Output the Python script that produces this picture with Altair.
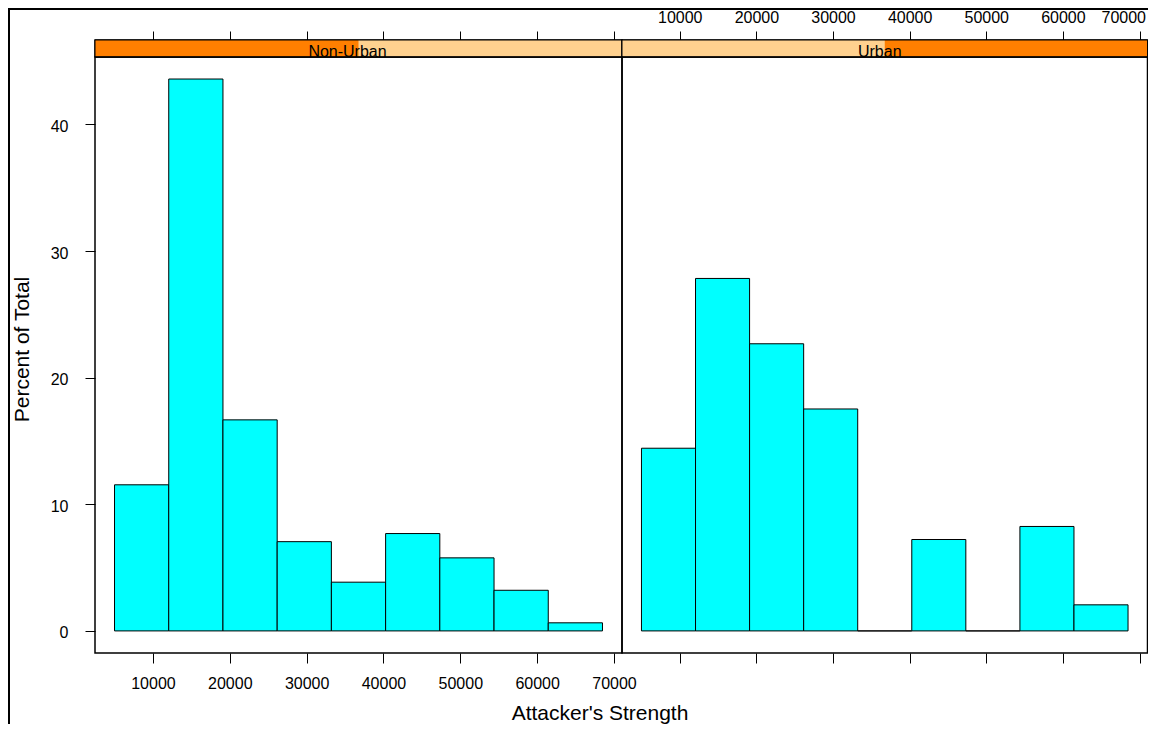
import altair as alt
import pandas as pd

# Attacker's Strength bins (same breaks in both panels)
bin_lo = [5000, 12056, 19111, 26167, 33222, 40278, 47333, 54389, 61444]
bin_hi = [12056, 19111, 26167, 33222, 40278, 47333, 54389, 61444, 68500]

# percent of total in each bin
pct_nonurban = [11.54, 43.59, 16.67, 7.05, 3.85, 7.69, 5.77, 3.21, 0.64]
pct_urban = [14.43, 27.84, 22.68, 17.53, 0.0, 7.22, 0.0, 8.25, 2.06]

levels = ['Non-Urban', 'Urban']
x_ticks = [10000, 20000, 30000, 40000, 50000, 60000, 70000]
y_ticks = [0, 10, 20, 30, 40]

FONT = 'Liberation Sans'
X_DOMAIN = [2460, 71040]
Y_DOMAIN = [-1.744, 45.33]
LEFT_W = 527
RIGHT_W = 525.5
PANEL_H = 596
STRIP_H = 17
STRIP_LIGHT = '#FFD18F'
STRIP_DARK = '#FF7F00'


def make_strip(i, width, top_labels, dx):
    n = len(levels)
    parts = pd.DataFrame({'part': ['bg', 'level'], 'start': [0, i], 'end': [n, i + 1]})
    lab = pd.DataFrame({'label': [levels[i]], 'mid': [n / 2]})
    lvl_scale = alt.Scale(domain=[0, n], nice=False, zero=False)

    fill = alt.Chart(parts).mark_rect().encode(
        x=alt.X('start:Q', scale=lvl_scale, axis=None),
        x2='end:Q',
        color=alt.Color('part:N', scale=alt.Scale(domain=['bg', 'level'],
                                                  range=[STRIP_LIGHT, STRIP_DARK]), legend=None)
    )
    border = alt.Chart(parts).transform_filter(alt.datum.part == 'bg').mark_rect(
        fillOpacity=0, stroke='black', strokeWidth=1
    ).encode(x=alt.X('start:Q', scale=lvl_scale, axis=None), x2='end:Q')
    text = alt.Chart(lab).mark_text(font=FONT, fontSize=16, baseline='alphabetic', dx=dx, color='black').encode(
        x=alt.X('mid:Q', scale=lvl_scale, axis=None),
        y=alt.value(STRIP_H),
        text='label:N'
    )

    # top axis sits on the strip; the last label is pulled in so it stays on the page
    ticks = alt.Chart(pd.DataFrame({'v': x_ticks})).mark_point(opacity=0).encode(
        x=alt.X('v:Q', scale=alt.Scale(domain=X_DOMAIN, nice=False, zero=False),
                axis=alt.Axis(orient='top', values=x_ticks, format='d', tickSize=9, labels=top_labels,
                              labelPadding=9, labelBaseline='alphabetic', title=None,
                              labelAlign={'condition': {'test': 'datum.value == 70000', 'value': 'right'},
                                          'value': 'center'},
                              labelOffset={'condition': {'test': 'datum.value == 70000', 'value': 6},
                                           'value': 0}))
    )
    return alt.layer(alt.layer(fill, border, text), ticks).resolve_scale(
        x='independent'
    ).properties(width=width, height=STRIP_H)


def make_panel(pct, width, left):
    df = pd.DataFrame({'lo': bin_lo, 'hi': bin_hi, 'pct': pct})
    if left:
        x_axis = alt.Axis(orient='bottom', values=x_ticks, format='d', tickSize=10, labelPadding=25,
                          labelBaseline='alphabetic', title="Attacker's Strength",
                          titleX=504.5, titleY=66, titleBaseline='alphabetic')
        y_axis = alt.Axis(orient='left', values=y_ticks, tickSize=10, labelPadding=17, labelOffset=2,
                          title='Percent of Total', titleX=-66.5, titleY=292, titleBaseline='alphabetic')
    else:
        x_axis = alt.Axis(orient='bottom', values=x_ticks, tickSize=10, labels=False, title=None)
        y_axis = alt.Axis(orient='right', values=y_ticks, tickSize=10, labels=False, title=None)

    bars = alt.Chart(df).mark_rect(fill='#00FFFF', stroke='black', strokeWidth=1).encode(
        x=alt.X('lo:Q', scale=alt.Scale(domain=X_DOMAIN, nice=False, zero=False), axis=x_axis),
        x2='hi:Q',
        y=alt.Y('pct:Q', scale=alt.Scale(domain=Y_DOMAIN, nice=False, zero=False), axis=y_axis),
        y2=alt.datum(0)
    )
    if not left:
        return bars.properties(width=width, height=PANEL_H)

    # picture frame (left and top edges)
    one = pd.DataFrame({'k': [0]})
    top_line = alt.Chart(one).mark_rule(color='black', strokeWidth=3).encode(
        x=alt.value(-88), x2=alt.value(1100), y=alt.value(-48.5))
    left_line = alt.Chart(one).mark_rule(color='black', strokeWidth=3).encode(
        x=alt.value(-86.5), y=alt.value(-50), y2=alt.value(700))
    return alt.layer(bars, top_line, left_line).properties(width=width, height=PANEL_H)


chart = alt.concat(
    make_strip(0, LEFT_W, False, -11), make_strip(1, RIGHT_W, True, -5),
    make_panel(pct_nonurban, LEFT_W, True), make_panel(pct_urban, RIGHT_W, False),
    columns=2, spacing=0, bounds='flush', align='each'
).properties(
    autosize=alt.AutoSizeParams(type='none'),
    padding={'left': 87, 'top': 32, 'right': 1053, 'bottom': 684}
).configure_view(
    stroke='black',
    strokeWidth=1.5
).configure_axis(
    domain=False,
    grid=False,
    tickColor='black',
    tickWidth=1,
    labelFont=FONT,
    labelFontSize=16,
    labelColor='black',
    titleFont=FONT,
    titleFontSize=21,
    titleFontWeight='normal',
    titleColor='black'
)

chart.save("out.html", embed_options={"renderer": "svg", "actions": False})
